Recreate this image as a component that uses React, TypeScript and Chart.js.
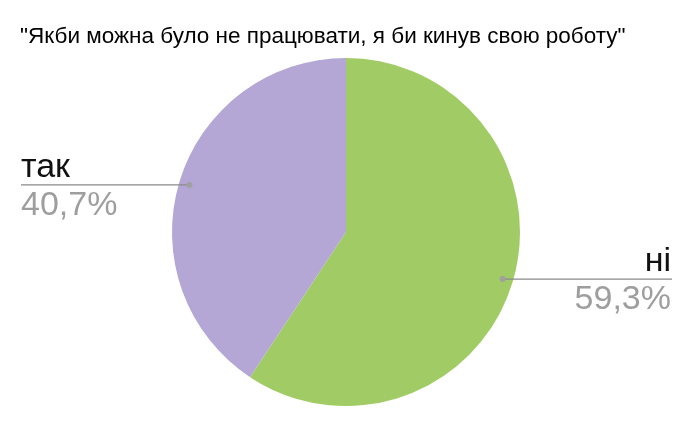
import React, { useEffect, useRef } from "react";
import { Chart, registerables } from "chart.js";

Chart.register(...registerables);

const titleText = "\"Якби можна було не працювати, я би кинув свою роботу\"";
const categories = ["ні", "так"];
const values = [59.3, 40.7];
const percentLabels = ["59,3%", "40,7%"];
const colors = ["#a1cb64", "#b4a7d6"];

const FONT = "'Liberation Sans', Arial, sans-serif";

const labelPlugin = {
  id: "sideLabels",
  afterDraw(chart: any) {
    const ctx = chart.ctx as CanvasRenderingContext2D;
    ctx.save();
    // title
    ctx.fillStyle = "#000000";
    ctx.font = `22.5px ${FONT}`;
    ctx.textAlign = "left";
    ctx.textBaseline = "alphabetic";
    ctx.fillText(titleText, 20, 43);

    const meta = chart.getDatasetMeta(0);
    meta.data.forEach((arc: any, i: number) => {
      const p = arc.getProps(["x", "y", "startAngle", "endAngle", "outerRadius"], true);
      const mid = (p.startAngle + p.endAngle) / 2;
      const dx = Math.cos(mid);
      const dy = Math.sin(mid);
      const px = p.x + dx * p.outerRadius * 0.94;
      const py = p.y + dy * p.outerRadius * 0.94;
      const left = dx < 0;
      const endX = left ? 21 : 672;
      ctx.strokeStyle = "#8a8a8a";
      ctx.lineWidth = 1.2;
      ctx.beginPath();
      ctx.moveTo(px, py);
      ctx.lineTo(endX, py);
      ctx.stroke();
      ctx.fillStyle = "#a0a0a0";
      ctx.beginPath();
      ctx.arc(px, py, 3, 0, Math.PI * 2);
      ctx.fill();

      ctx.textAlign = left ? "left" : "right";
      const tx = left ? 21 : 671;
      ctx.font = `34px ${FONT}`;
      ctx.fillStyle = "#111111";
      ctx.fillText(categories[i], tx, py - 8);
      ctx.fillStyle = "#9e9e9e";
      ctx.fillText(percentLabels[i], tx, py + 30);
    });
    ctx.restore();
  },
};

export default function App() {
  const ref = useRef<HTMLCanvasElement | null>(null);
  useEffect(() => {
    if (!ref.current) return;
    const chart = new Chart(ref.current, {
      type: "pie",
      data: {
        labels: categories,
        datasets: [
          {
            data: values,
            backgroundColor: colors,
            borderWidth: 0,
          },
        ],
      },
      options: {
        responsive: false,
        animation: false,
        layout: { padding: { top: 58, bottom: 21, left: 172, right: 173 } },
        plugins: {
          legend: { display: false },
          tooltip: { enabled: false },
          title: { display: false },
        },
      },
      plugins: [labelPlugin],
    });
    return () => chart.destroy();
  }, []);
  return (
    <div style={{ position: "fixed", left: 0, top: 0, width: 693, height: 427, background: "#fff" }}>
      <canvas ref={ref} width={693} height={427} style={{ width: 693, height: 427, display: "block" }} />
    </div>
  );
}
